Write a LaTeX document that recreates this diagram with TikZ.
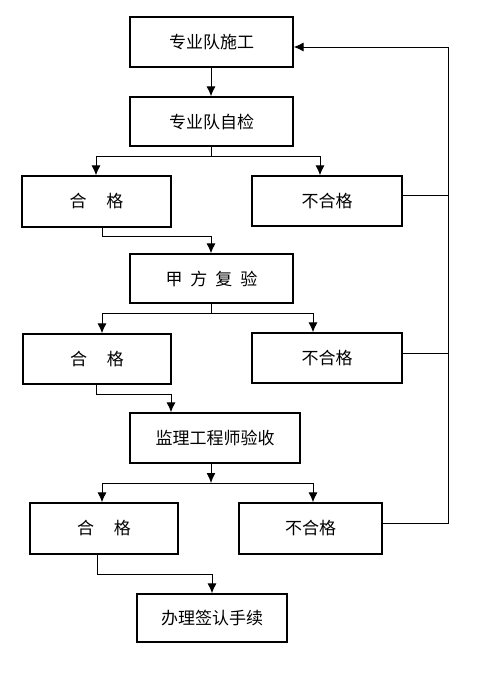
\documentclass[tikz,border=0pt]{standalone}
\usepackage{fontspec}
\newfontfamily\cjk{Noto Sans CJK SC}
\usetikzlibrary{arrows.meta,calc}
\begin{document}
\begin{tikzpicture}[x=1pt,y=-1pt,
  box/.style={draw, line width=1.3pt, inner sep=0pt, font=\cjk\fontsize{17}{19}\selectfont},
  conn/.style={line width=1pt},
  arr/.style={line width=1pt, -{Latex[length=10pt,width=9pt]}}]
\useasboundingbox (0,0) rectangle (498,678);
\node[box, minimum width=163, minimum height=50] (b1) at (211.5,42) {专业队施工};
\node[box, minimum width=163, minimum height=49] (b2) at (211.5,121.5) {专业队自检};
\node[box, minimum width=149, minimum height=51] (l1) at (96.5,201.5) {合\hspace{20pt}格};
\node[box, minimum width=150, minimum height=50] (r1) at (327,201) {不合格};
\node[box, minimum width=163, minimum height=49] (b5) at (211.5,278.5) {甲\hspace{8pt}方\hspace{8pt}复\hspace{8pt}验};
\node[box, minimum width=148, minimum height=50] (l2) at (97,359) {合\hspace{20pt}格};
\node[box, minimum width=150, minimum height=50] (r2) at (327,358) {不合格};
\node[box, minimum width=170, minimum height=50] (b8) at (215,438) {监理工程师验收};
\node[box, minimum width=148, minimum height=51] (l3) at (104,528.5) {合\hspace{20pt}格};
\node[box, minimum width=143, minimum height=51] (r3) at (310.5,528.5) {不合格};
\node[box, minimum width=150, minimum height=48] (b11) at (212,618) {办理签认手续};
% coordinates
\coordinate (s2) at (211,156);
\coordinate (s5) at (211,313);
\coordinate (s8) at (211,483);
\coordinate (rt) at (448,47);
% top
\draw[arr] (b1.south -| 211,0) -- (b2.north -| 211,0);
% branch 1
\draw[conn] (b2.south -| s2) -- (s2);
\draw[arr] (s2) -| (l1.north -| 96,0);
\draw[arr] (s2) -| (r1.north -| 320,0);
\draw[arr] (l1.south -| 102,0) |- (211,236) -- (b5.north -| 211,0);
% branch 2
\draw[conn] (b5.south -| s5) -- (s5);
\draw[arr] (s5) -| (l2.north -| 102,0);
\draw[arr] (s5) -| (r2.north -| 313,0);
\draw[arr] (l2.south -| 96,0) |- (171,394) -- (b8.north -| 171,0);
% branch 3
\draw[arr] (b8.south -| s8) -- (s8);
\draw[arr] (s8) -| (l3.north -| 102,0);
\draw[arr] (s8) -| (r3.north -| 313,0);
\draw[arr] (l3.south -| 97,0) |- (212,574) -- (b11.north -| 212,0);
% feedback
\draw[conn] (r1.east |- 0,195) -- (448,195);
\draw[conn] (r2.east |- 0,353) -- (448,353);
\draw[arr] (r3.east |- 0,523) -| (rt) -- (b1.east |- rt);
\end{tikzpicture}
\end{document}
